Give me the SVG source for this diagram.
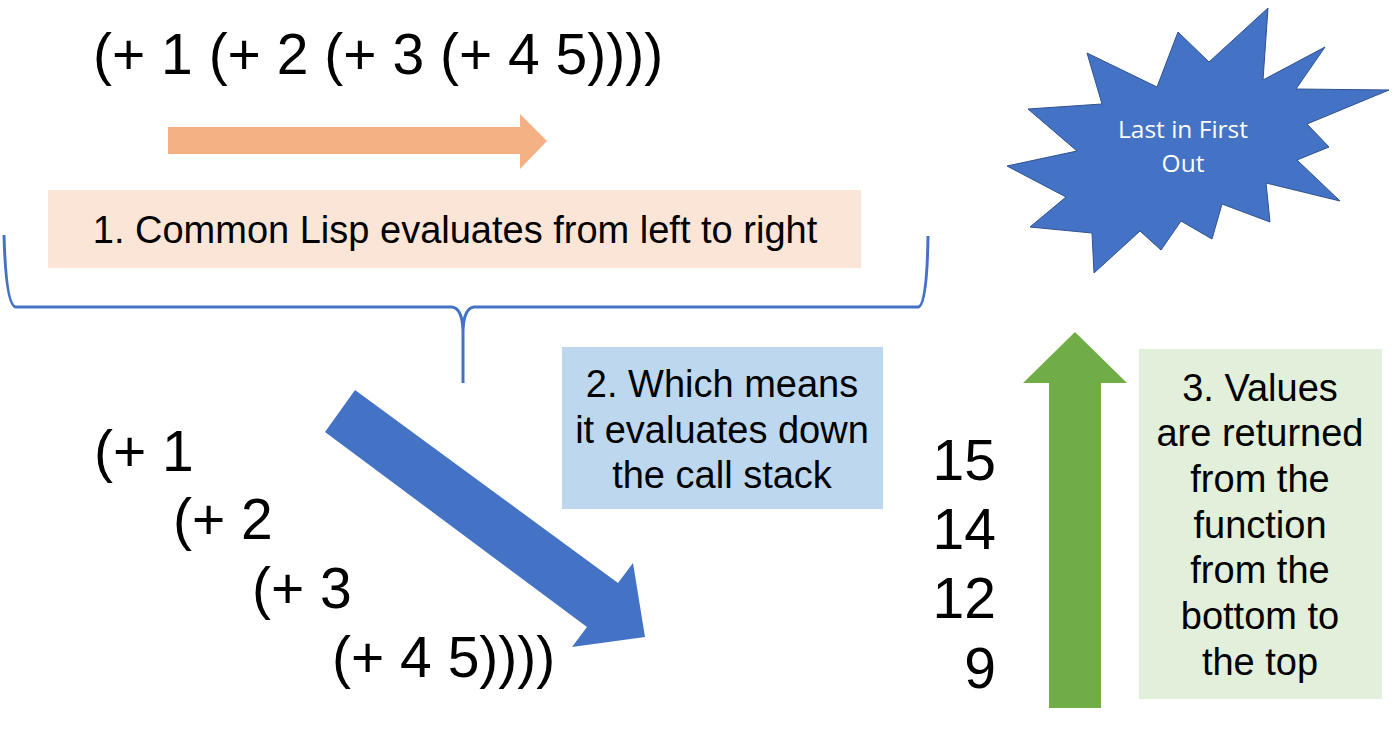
<svg xmlns="http://www.w3.org/2000/svg" width="1400" height="735" viewBox="0 0 1400 735">
<style>
  .t { font-family: "Liberation Sans", Arial, sans-serif; fill: #000; }
  .big { font-size: 57px; }
  .mid { font-size: 38px; }
  .c { text-anchor: middle; }
  .star { font-family: "Open Sans", "Liberation Sans", sans-serif; font-size: 24.5px; fill: #fff; text-anchor: middle; }
</style>
<rect width="1400" height="735" fill="#fff"/>

<g id="expr-top">
  <text class="t big" x="93" y="74">(+ 1 (+ 2 (+ 3 (+ 4 5))))</text>
</g>

<g id="connectors">
  <polygon id="arrow-orange" points="168,127 520,127 520,114 547,141 520,169 520,154 168,154" fill="#F4B183"/>
  <path id="brace" d="M4,235 Q6,307 16,307 L452,307 Q462,308 463,330 L463,383 M463,330 Q464,308 474,307 L918,307 Q927,307 928,236" fill="none" stroke="#4472C4" stroke-width="3"/>
  <polygon id="arrow-blue" points="355,390 618,583 633,563 645,637 572,647 587,627 325,432" fill="#4472C4"/>
  <polygon id="arrow-green" points="1075,332 1127,383 1101,383 1101,708 1049,708 1049,383 1023,383" fill="#70AD47"/>
</g>

<g id="box1">
  <rect x="48" y="190" width="813" height="78" fill="#FBE5D6"/>
  <text class="t mid c" x="455" y="243">1. Common Lisp evaluates from left to right</text>
</g>

<g id="box2">
  <rect x="562" y="347" width="321" height="162" fill="#BDD7EE"/>
  <text class="t mid c" x="722" y="397">2. Which means</text>
  <text class="t mid c" x="722" y="443">it evaluates down</text>
  <text class="t mid c" x="722" y="488">the call stack</text>
</g>

<g id="box3">
  <rect x="1139" y="349" width="243" height="350" fill="#E2EFDA"/>
  <text class="t mid c" x="1260" y="401">3. Values</text>
  <text class="t mid c" x="1260" y="446">are returned</text>
  <text class="t mid c" x="1260" y="492">from the</text>
  <text class="t mid c" x="1260" y="538">function</text>
  <text class="t mid c" x="1260" y="583">from the</text>
  <text class="t mid c" x="1260" y="629">bottom to</text>
  <text class="t mid c" x="1260" y="675">the top</text>
</g>

<g id="star">
  <polygon points="1268,8 1263,80 1325,47 1296,89 1389,90 1307,124 1329,147 1297,160 1340,201 1266,183 1270,222 1222,204 1212,239 1181,221 1161,250 1140,231 1094,273 1092,233 1030,227 1066,197 1007,166 1077,151 1028,109 1102,104 1087,53 1157,87 1178,32 1209,62" fill="#4472C4" stroke="#2F528F" stroke-width="1"/>
  <text class="star" x="1183" y="138">Last in First</text>
  <text class="star" x="1183" y="172">Out</text>
</g>

<g id="stack">
  <text class="t big" x="94" y="471">(+ 1</text>
  <text class="t big" x="173" y="539">(+ 2</text>
  <text class="t big" x="252" y="608">(+ 3</text>
  <text class="t big" x="332" y="677">(+ 4 5))))</text>
</g>

<g id="values">
  <text class="t big" x="996" y="480" text-anchor="end">15</text>
  <text class="t big" x="996" y="549" text-anchor="end">14</text>
  <text class="t big" x="996" y="618" text-anchor="end">12</text>
  <text class="t big" x="996" y="688" text-anchor="end">9</text>
</g>
</svg>
